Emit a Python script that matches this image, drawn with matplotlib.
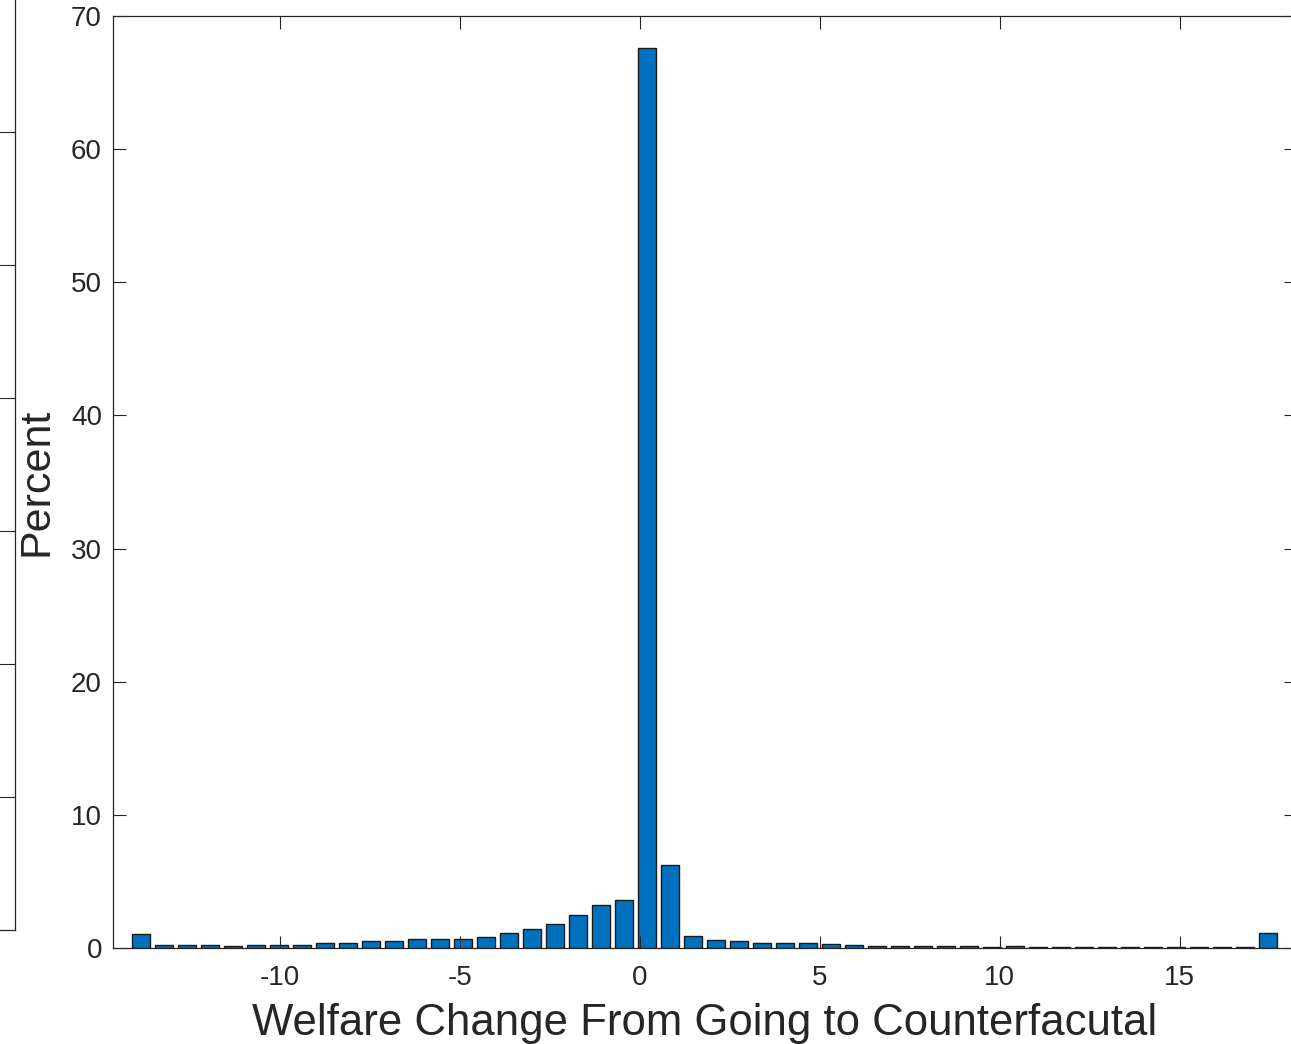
import numpy as np
import matplotlib.pyplot as plt

plt.rcParams['font.family'] = ['Liberation Sans', 'DejaVu Sans']

# bin centers and percent per bin
centers = [-13.86, -13.22, -12.58, -11.94, -11.30, -10.67, -10.03, -9.39, -8.75, -8.11,
           -7.47, -6.83, -6.19, -5.55, -4.91, -4.28, -3.64, -3.00, -2.36, -1.72,
           -1.08, -0.44, 0.20, 0.84, 1.48, 2.12, 2.75, 3.39, 4.03, 4.67,
           5.31, 5.95, 6.59, 7.23, 7.87, 8.51, 9.14, 9.78, 10.42, 11.06,
           11.70, 12.34, 12.98, 13.62, 14.26, 14.90, 15.53, 16.17, 16.81, 17.45]
percent = [1.08, 0.20, 0.20, 0.20, 0.13, 0.22, 0.25, 0.22, 0.40, 0.40,
           0.55, 0.55, 0.65, 0.65, 0.70, 0.85, 1.10, 1.45, 1.80, 2.45,
           3.25, 3.60, 67.6, 6.20, 0.90, 0.63, 0.50, 0.40, 0.40, 0.38,
           0.28, 0.22, 0.17, 0.15, 0.18, 0.17, 0.15, 0.10, 0.15, 0.10,
           0.10, 0.08, 0.08, 0.08, 0.08, 0.06, 0.05, 0.05, 0.05, 1.13]

xticks = [-10, -5, 0, 5, 10, 15]
yticks = [0, 10, 20, 30, 40, 50, 60, 70]

dark = '#262626'
W, H = 1291, 1044
fig = plt.figure(figsize=(W / 100, H / 100), dpi=100)

# main axes (right edge runs slightly past the crop)
ax = fig.add_axes([113 / W, 1 - 948 / H, (1296 - 113) / W, (948 - 16) / H])
ax.bar(centers, percent, width=0.51, color='#0072BD', edgecolor='#1a1a1a', linewidth=1.0)
ax.set_xlim(-14.64, 18.23)
ax.set_ylim(0, 70)
ax.set_xticks(xticks)
ax.set_xticklabels([str(t) for t in xticks])
ax.set_yticks(yticks)
ax.tick_params(direction='in', length=9, width=0.8, colors=dark, labelsize=20,
               top=True, right=True)
ax.tick_params(axis='x', pad=12)
ax.tick_params(axis='y', pad=8)
for s in ax.spines.values():
    s.set_color(dark)
    s.set_linewidth(0.9)
ax.set_xlabel('Welfare Change From Going to Counterfacutal', fontsize=31.5, color=dark, labelpad=9)
ax.set_ylabel('Percent', fontsize=31, color=dark, labelpad=10)

# edge of the neighbouring panel on the left
ax2 = fig.add_axes([-0.3, 1 - 930 / H, 0.3 + 15 / W, 931 / H])
ax2.set_xlim(0, 1)
ax2.set_ylim(0, 7)
ax2.set_xticks([])
ax2.set_yticks([1, 2, 3, 4, 5, 6])
ax2.yaxis.tick_right()
ax2.tick_params(axis='y', direction='in', length=15, width=0.8, colors=dark, labelright=False)
for s in ax2.spines.values():
    s.set_color(dark)
    s.set_linewidth(0.9)

fig.savefig('out.png', dpi=100)
